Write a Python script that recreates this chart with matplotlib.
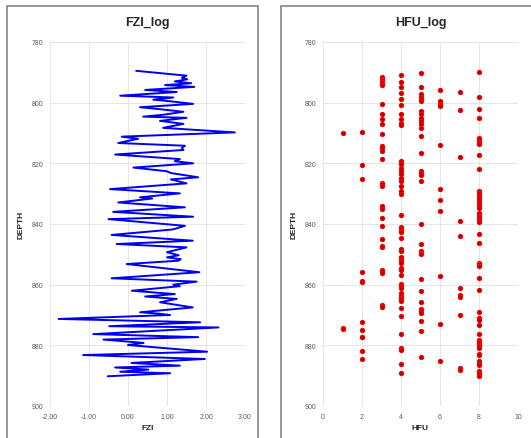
import numpy as np
import matplotlib
matplotlib.use("Agg")
from matplotlib import pyplot as plt
from matplotlib.patches import Rectangle

plt.rcParams['font.family'] = ['Liberation Sans', 'DejaVu Sans']

# FZI log (depth order)
fzi_depth = [789.5, 791.1, 791.8, 792.3, 793.0, 793.6, 794.2, 794.8, 795.8, 796.5,
             797.7, 798.3, 799.0, 799.5, 800.4, 801.5, 802.2, 803.0, 804.0, 804.6,
             805.0, 806.0, 807.0, 808.3, 809.8, 811.2, 811.9, 813.3, 814.2, 815.0,
             815.6, 817.1, 818.6, 819.3, 820.0, 821.4, 822.6, 823.2, 824.6, 825.3,
             826.6, 828.5, 829.9, 831.2, 831.6, 832.9, 834.5, 836.0, 837.6, 838.4,
             839.3, 840.6, 841.8, 843.6, 845.5, 846.6, 847.7, 849.3, 850.3, 851.0,
             851.6, 852.1, 853.2, 855.9, 857.9, 859.0, 860.0, 860.5, 862.0, 863.1,
             863.9, 864.7, 865.8, 867.5, 869.1, 869.5, 870.0, 871.3, 872.4, 873.7,
             874.1, 876.3, 877.3, 878.1, 879.2, 879.9, 882.1, 883.2, 884.5, 885.8,
             886.7, 887.3, 888.0, 888.7, 889.2, 890.2]
fzi_vals = [0.21, 1.50, 1.38, 1.52, 1.20, 1.62, 0.95, 1.70, 0.44, 1.25,
            -0.20, 1.16, 0.65, 1.05, 1.67, 0.31, 0.85, 1.42, 0.90, 0.39,
            1.50, 0.82, 1.42, 0.90, 2.74, -0.16, 0.26, -0.25, 1.46, 1.38,
            1.42, -0.33, 1.33, 1.20, 1.67, 0.14, 0.99, 1.10, 1.80, 1.10,
            1.50, -0.46, 1.33, 0.31, 0.62, -0.25, 1.46, -0.38, 1.67, -0.50,
            0.30, 1.46, 1.15, -0.42, 1.66, -0.29, 1.50, 1.00, 1.30, 1.00,
            1.35, 1.29, -0.03, 1.83, -0.42, 1.76, 1.16, 1.33, 0.10, 1.20,
            0.44, 1.25, 0.82, 1.66, 0.31, 0.75, 1.08, -1.78, 1.85, -0.48,
            2.32, -0.89, 1.80, -0.63, 0.40, 0.00, 2.03, -1.15, 1.97, 0.09,
            1.33, -0.33, 0.52, -0.20, 1.08, -0.52]

# HFU log: depths for each flow unit
hfu_depths = {
    1: [809.9, 874.2, 874.6],
    2: [809.6, 820.5, 825.3, 855.7, 858.8, 859.2, 872.4, 874.9, 877.1, 877.3, 882.0, 884.5],
    3: [791.4, 792.1, 792.6, 793.2, 793.7, 794.3, 800.5, 803.6, 805.5, 807.1, 810.4,
        814.3, 814.8, 815.9, 818.7, 826.4, 826.9, 827.5, 834.1, 835.0, 838.0, 840.5,
        845.0, 847.2, 847.7, 855.0, 855.5, 856.0, 866.8, 867.3],
    4: [791.0, 793.2, 794.7, 796.7, 798.9, 800.9, 803.8, 805.5, 806.6, 807.5,
        819.2, 819.8, 820.3, 821.4, 822.5, 823.6, 824.7, 825.8, 827.5, 829.1, 830.2,
        837.0, 841.1, 841.7, 842.2, 842.8, 844.6, 848.3, 848.8, 851.0, 851.6, 852.1,
        852.7, 854.4, 855.0, 856.8, 859.9, 860.4, 861.0, 862.6, 863.7, 864.3, 864.8,
        865.4, 867.8, 870.4, 876.4, 880.8, 881.4, 886.3, 889.0],
    5: [790.3, 794.7, 797.3, 798.0, 798.9, 799.5, 802.7, 803.8, 804.9, 806.0, 807.1,
        808.2, 811.0, 816.5, 822.5, 823.1, 823.8, 825.8, 840.0, 846.6, 848.8, 849.4,
        849.9, 858.2, 862.2, 865.6, 868.1, 868.7, 869.2, 872.0, 875.3, 883.9],
    6: [795.8, 799.5, 800.3, 801.1, 814.0, 828.6, 832.2, 835.7, 857.3, 872.9, 885.0],
    7: [796.4, 802.4, 817.9, 839.1, 844.1, 861.2, 863.4, 864.0, 870.0, 887.5, 888.1],
    8: [789.8, 798.0, 802.0, 804.9, 811.5, 812.1, 812.6, 813.2, 813.7, 817.4, 821.8,
        829.1, 829.8, 830.5, 831.2, 831.9, 832.6, 833.3, 834.0, 834.6, 836.3, 836.8,
        837.4, 837.8, 838.3, 838.9, 839.4, 843.3, 846.1, 852.7, 853.3, 853.8, 857.9,
        861.8, 869.0, 870.9, 871.5, 873.4, 876.2, 878.1, 878.7, 879.2, 879.8, 880.3,
        880.9, 882.9, 883.3, 885.3, 885.9, 886.4, 888.4, 889.0, 889.5, 890.0],
}

W, H = 531, 439
fig = plt.figure(figsize=(W / 100, H / 100), dpi=100)

# panel frames
for x0 in (7, 281):
    fig.patches.append(Rectangle((x0 / W, -0.05), 251 / W, (H - 7) / H + 0.05,
                                 transform=fig.transFigure, fill=False,
                                 edgecolor='#8c8c8c', linewidth=1.3))

grid_c = '#e0e0e0'
tick_c = '#595959'


def style(ax):
    for s in ax.spines.values():
        s.set_visible(False)
    ax.grid(True, color=grid_c, linewidth=0.6)
    ax.set_axisbelow(True)
    ax.tick_params(length=0, labelsize=5, colors=tick_c, pad=5)
    ax.set_ylim(900, 780)
    ax.set_yticks(np.arange(780, 901, 20))
    ax.set_ylabel('DEPTH', fontsize=6, fontweight='bold', color='#262626', labelpad=5)


ax1 = fig.add_axes([50 / W, 32 / H, 195 / W, 364 / H])
style(ax1)
ax1.plot(fzi_vals, fzi_depth, color='#0000ee', linewidth=1.4,
         solid_joinstyle='round', solid_capstyle='round')
ax1.set_xlim(-2, 3)
ax1.set_xticks(np.arange(-2, 3.1, 1))
ax1.set_xticklabels(['%.2f' % v for v in np.arange(-2, 3.1, 1)])
ax1.set_xlabel('FZI', fontsize=6, fontweight='bold', color='#262626', labelpad=3)
ax1.set_title('FZI_log', fontsize=9, fontweight='bold', color='#262626', pad=12)

ax2 = fig.add_axes([323 / W, 32 / H, 195 / W, 364 / H])
style(ax2)
for hfu, depths in hfu_depths.items():
    ax2.scatter([hfu] * len(depths), depths, s=9, facecolor='#b00000',
                edgecolor='#ff0000', linewidth=0.8, zorder=3)
ax2.set_xlim(0, 10)
ax2.set_xticks(np.arange(0, 11, 2))
ax2.set_xlabel('HFU', fontsize=6, fontweight='bold', color='#262626', labelpad=3)
ax2.set_title('HFU_log', fontsize=9, fontweight='bold', color='#262626', pad=12)

fig.savefig('out.png', dpi=100, facecolor='white')
